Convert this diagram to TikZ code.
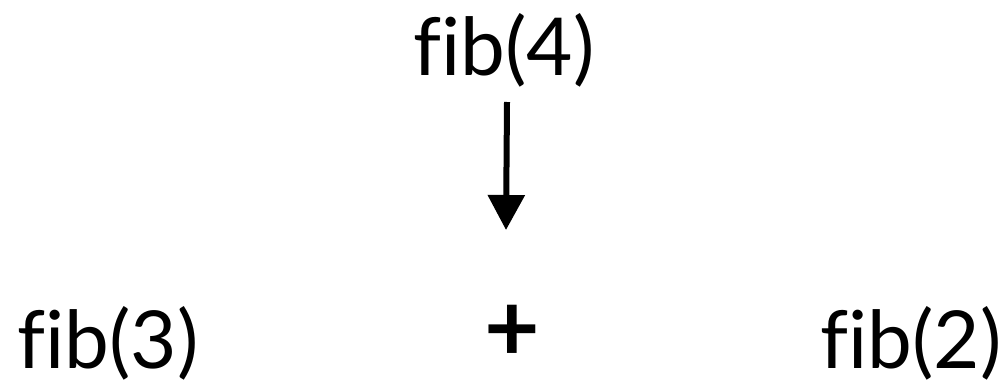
\documentclass[tikz,border=0pt]{standalone}
\usepackage{fontspec}
\setmainfont[Ligatures={NoCommon}]{Lato}
\usetikzlibrary{arrows.meta}
\begin{document}
\begin{tikzpicture}[x=1pt,y=1pt,
  lbl/.style={inner sep=0pt,font=\fontsize{80}{90}\selectfont},
  op/.style={inner sep=0pt,font=\fontsize{96}{110}\selectfont\bfseries},
  arr/.style={line width=6pt,-{Triangle[width=36pt,length=35pt]}}]
\useasboundingbox (0,0) rectangle (1008,-388);
\node[lbl] (f4) at (504,-50) {fib(4)};
\node[lbl] (f3) at (108,-343) {fib(3)};
\node[op] (plus) at (512,-333) {+};
\node[lbl] (f2) at (911,-343) {fib(2)};
\coordinate (a1) at (507,-102);
\coordinate (a2) at (506,-230);
\draw[arr] (a1) -- (a2);
\end{tikzpicture}
\end{document}
